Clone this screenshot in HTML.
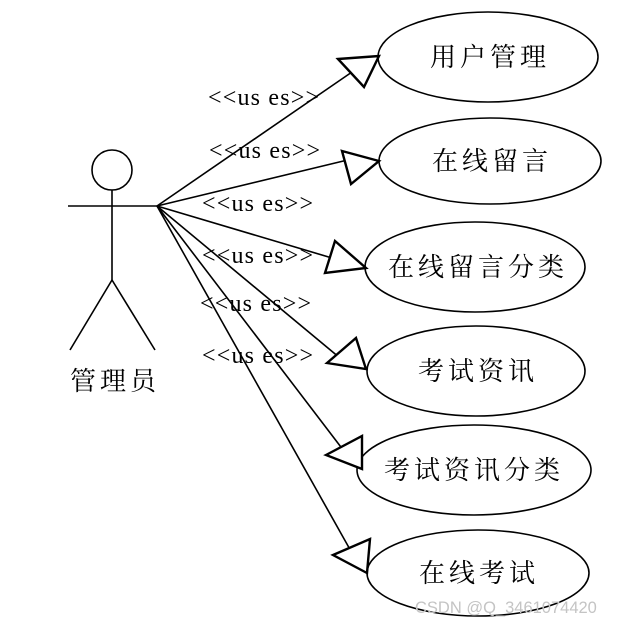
<!DOCTYPE html>
<html><head><meta charset="utf-8"><style>
body{margin:0;background:#fff;}
svg{display:block}
text{font-family:"Liberation Serif","Noto Serif CJK SC",serif;}
</style></head><body>
<svg width="625" height="626" viewBox="0 0 625 626">
<g stroke="#000" stroke-width="1.6" fill="none">
<circle cx="112" cy="170" r="20"/>
<line x1="68" y1="206" x2="157" y2="206"/>
<line x1="112" y1="190" x2="112" y2="280"/>
<line x1="112" y1="280" x2="70" y2="350"/>
<line x1="112" y1="280" x2="155" y2="350"/>
<line x1="157" y1="206" x2="352" y2="72"/>
<line x1="157" y1="206" x2="360" y2="157"/>
<line x1="157" y1="206" x2="332" y2="258"/>
<line x1="157" y1="206" x2="346" y2="363"/>
<line x1="157" y1="206" x2="347" y2="455"/>
<line x1="157" y1="206" x2="352" y2="553"/>
<ellipse cx="488" cy="57" rx="110" ry="45"/>
<ellipse cx="490" cy="161" rx="111" ry="43"/>
<ellipse cx="475" cy="267" rx="110" ry="45"/>
<ellipse cx="476" cy="371" rx="109" ry="45"/>
<ellipse cx="474" cy="470" rx="117" ry="45"/>
<ellipse cx="478" cy="573" rx="111" ry="43"/>
</g>
<g stroke="#000" stroke-width="2.4" fill="#fff" stroke-linejoin="miter">
<polygon points="338,59 379,56 364,87"/>
<polygon points="342,151 379,161 351,184"/>
<polygon points="335,241 366,268 325,273"/>
<polygon points="327,363 356,338 366,369"/>
<polygon points="326,455 362,436 362,469"/>
<polygon points="333,555 370,539 367,573"/>
</g>
<g font-size="24" fill="#000" letter-spacing="1.2">
<text x="208" y="105">&lt;&lt;us es&gt;&gt;</text>
<text x="209" y="158">&lt;&lt;us es&gt;&gt;</text>
<text x="202" y="211">&lt;&lt;us es&gt;&gt;</text>
<text x="202" y="263">&lt;&lt;us es&gt;&gt;</text>
<text x="200" y="311">&lt;&lt;us es&gt;&gt;</text>
<text x="202" y="363">&lt;&lt;us es&gt;&gt;</text>
</g>
<g font-size="26" fill="#000">
<text x="430" y="66" letter-spacing="4">用户管理</text>
<text x="432" y="170" letter-spacing="4">在线留言</text>
<text x="388" y="276" letter-spacing="4">在线留言分类</text>
<text x="418" y="380" letter-spacing="4">考试资讯</text>
<text x="384" y="479" letter-spacing="4">考试资讯分类</text>
<text x="419" y="582" letter-spacing="4">在线考试</text>
<text x="70" y="390" letter-spacing="4">管理员</text>
</g>
<text x="415" y="613" font-size="16.5" fill="#c4c4c4" style="font-family:'Liberation Sans',sans-serif">CSDN @Q_3461074420</text>
</svg>
</body></html>
